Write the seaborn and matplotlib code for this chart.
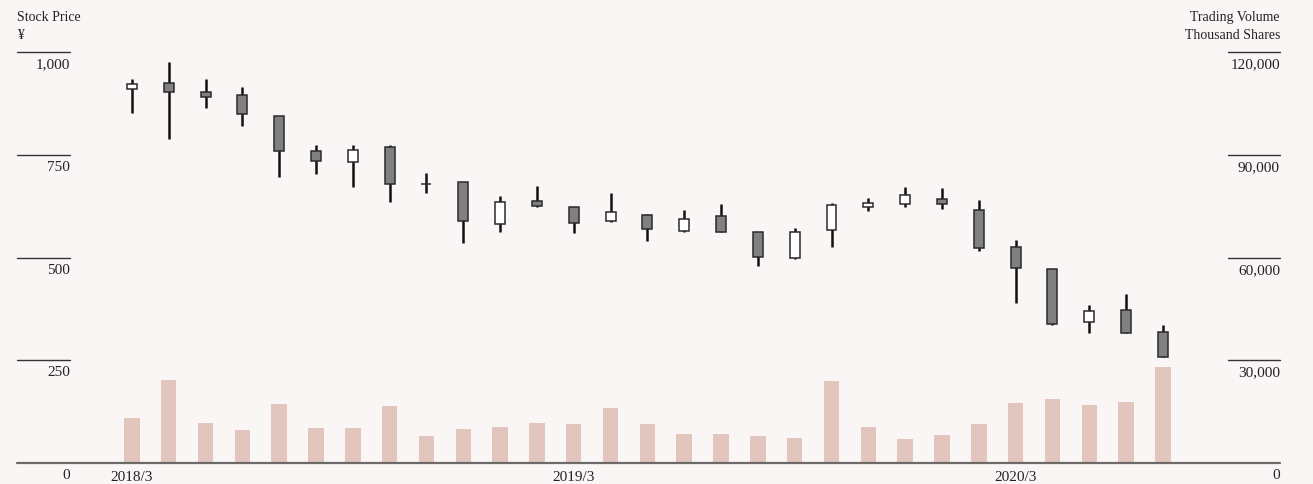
import numpy as np
import pandas as pd
import matplotlib
matplotlib.use("Agg")
import matplotlib.pyplot as plt
import matplotlib.transforms as mtransforms
import seaborn as sns

# monthly data, 2018/3 - 2020/7
months = [d.strftime("%Y/%-m") for d in pd.date_range("2018-03-01", periods=29, freq="MS")]
open_ = [909, 925, 903, 895, 844, 758, 732, 768, 678, 684, 581, 637, 624, 589, 603,
         565, 601, 563, 498, 566, 623, 629, 642, 616, 525, 472, 342, 372, 318]
close = [922, 902, 890, 849, 758, 735, 762, 679, 678, 590, 635, 626, 585, 611, 570,
         594, 561, 501, 561, 628, 633, 652, 631, 522, 474, 338, 370, 317, 259]
high = [934, 976, 934, 914, 844, 774, 774, 774, 706, 684, 650, 674, 624, 658, 605,
        616, 630, 563, 571, 632, 644, 671, 668, 640, 543, 472, 384, 411, 336]
low = [851, 788, 864, 821, 697, 704, 672, 635, 658, 536, 563, 624, 560, 587, 541,
       563, 561, 479, 496, 526, 614, 624, 619, 517, 390, 336, 317, 317, 258]
volume = [13100, 24200, 11700, 9600, 17200, 10200, 10200, 16600, 7900, 9900, 10500,
          11700, 11400, 16100, 11400, 8500, 8500, 7900, 7300, 23900, 10500, 7000,
          8200, 11400, 17500, 18700, 16900, 17800, 28000]

price_ticks = [0, 250, 500, 750, 1000]
volume_ticks = [0, 30000, 60000, 90000, 120000]
xtick_labels = ["2018/3", "2019/3", "2020/3"]

bg = "#faf6f5"
sns.set_theme(style="white")
plt.rcParams["font.family"] = ["Liberation Serif", "DejaVu Serif"]
plt.rcParams["figure.facecolor"] = bg
plt.rcParams["axes.facecolor"] = bg

fig = plt.figure(figsize=(13.13, 4.84), dpi=100)
ax_vol = fig.add_axes([17 / 1313, 21 / 484, 1263 / 1313, 411 / 484])

# volume bars
sns.barplot(x=months, y=volume, ax=ax_vol, color="#e2c6bd", saturation=1,
            width=0.42, linewidth=0)
ax_vol.set_ylim(0, 120000)

ax_price = ax_vol.twinx()
ax_price.set_ylim(0, 1000)

# candlesticks
x = np.arange(len(months))
o = np.array(open_)
c = np.array(close)
up = c >= o
ax_price.vlines(x, low, high, color="#111111", linewidth=1.8, zorder=2)
ax_price.bar(x, np.abs(c - o), bottom=np.minimum(o, c), width=0.27,
             color=np.where(up, "white", "#808080"), edgecolor="#2a2a2a",
             linewidth=1.1, zorder=3)

ax_vol.set_xlim(-3.12, 31.18)

for a in (ax_vol, ax_price):
    for s in a.spines.values():
        s.set_visible(False)
    a.set_yticks([])
    a.set_ylabel("")

ax_vol.set_xticks([months.index(m) for m in xtick_labels])
ax_vol.set_xticklabels(xtick_labels, fontsize=11, color="#222222")
ax_vol.tick_params(axis="x", length=0, pad=6)

# baseline
ax_price.axhline(0, color="#6e6a6a", linewidth=1.6, clip_on=False)

tr = mtransforms.blended_transform_factory(ax_price.transAxes, ax_price.transData)
off = mtransforms.offset_copy(tr, fig=fig, y=-4.5, units="points")
lx = 53 / 1263
rx = 1211 / 1263
for p, v in zip(price_ticks, volume_ticks):
    if p > 0:
        ax_price.axhline(p, xmin=0, xmax=lx, color="#333333", linewidth=1.0, clip_on=False)
        ax_price.axhline(p, xmin=rx, xmax=1, color="#333333", linewidth=1.0, clip_on=False)
    ax_price.text(lx, p, f"{p:,}", transform=off, ha="right", va="top",
                  fontsize=11, color="#222222")
    ax_price.text(1, p, f"{v:,}", transform=off, ha="right", va="top",
                  fontsize=11, color="#222222")

fig.text(17 / 1313, 1 - 11 / 484, "Stock Price\n¥", ha="left", va="top",
         fontsize=10, color="#222222", linespacing=1.5)
fig.text(1280 / 1313, 1 - 11 / 484, "Trading Volume\nThousand Shares", ha="right",
         va="top", fontsize=10, color="#222222", linespacing=1.5, multialignment="right")

fig.savefig("out.png", dpi=100, facecolor=bg)
